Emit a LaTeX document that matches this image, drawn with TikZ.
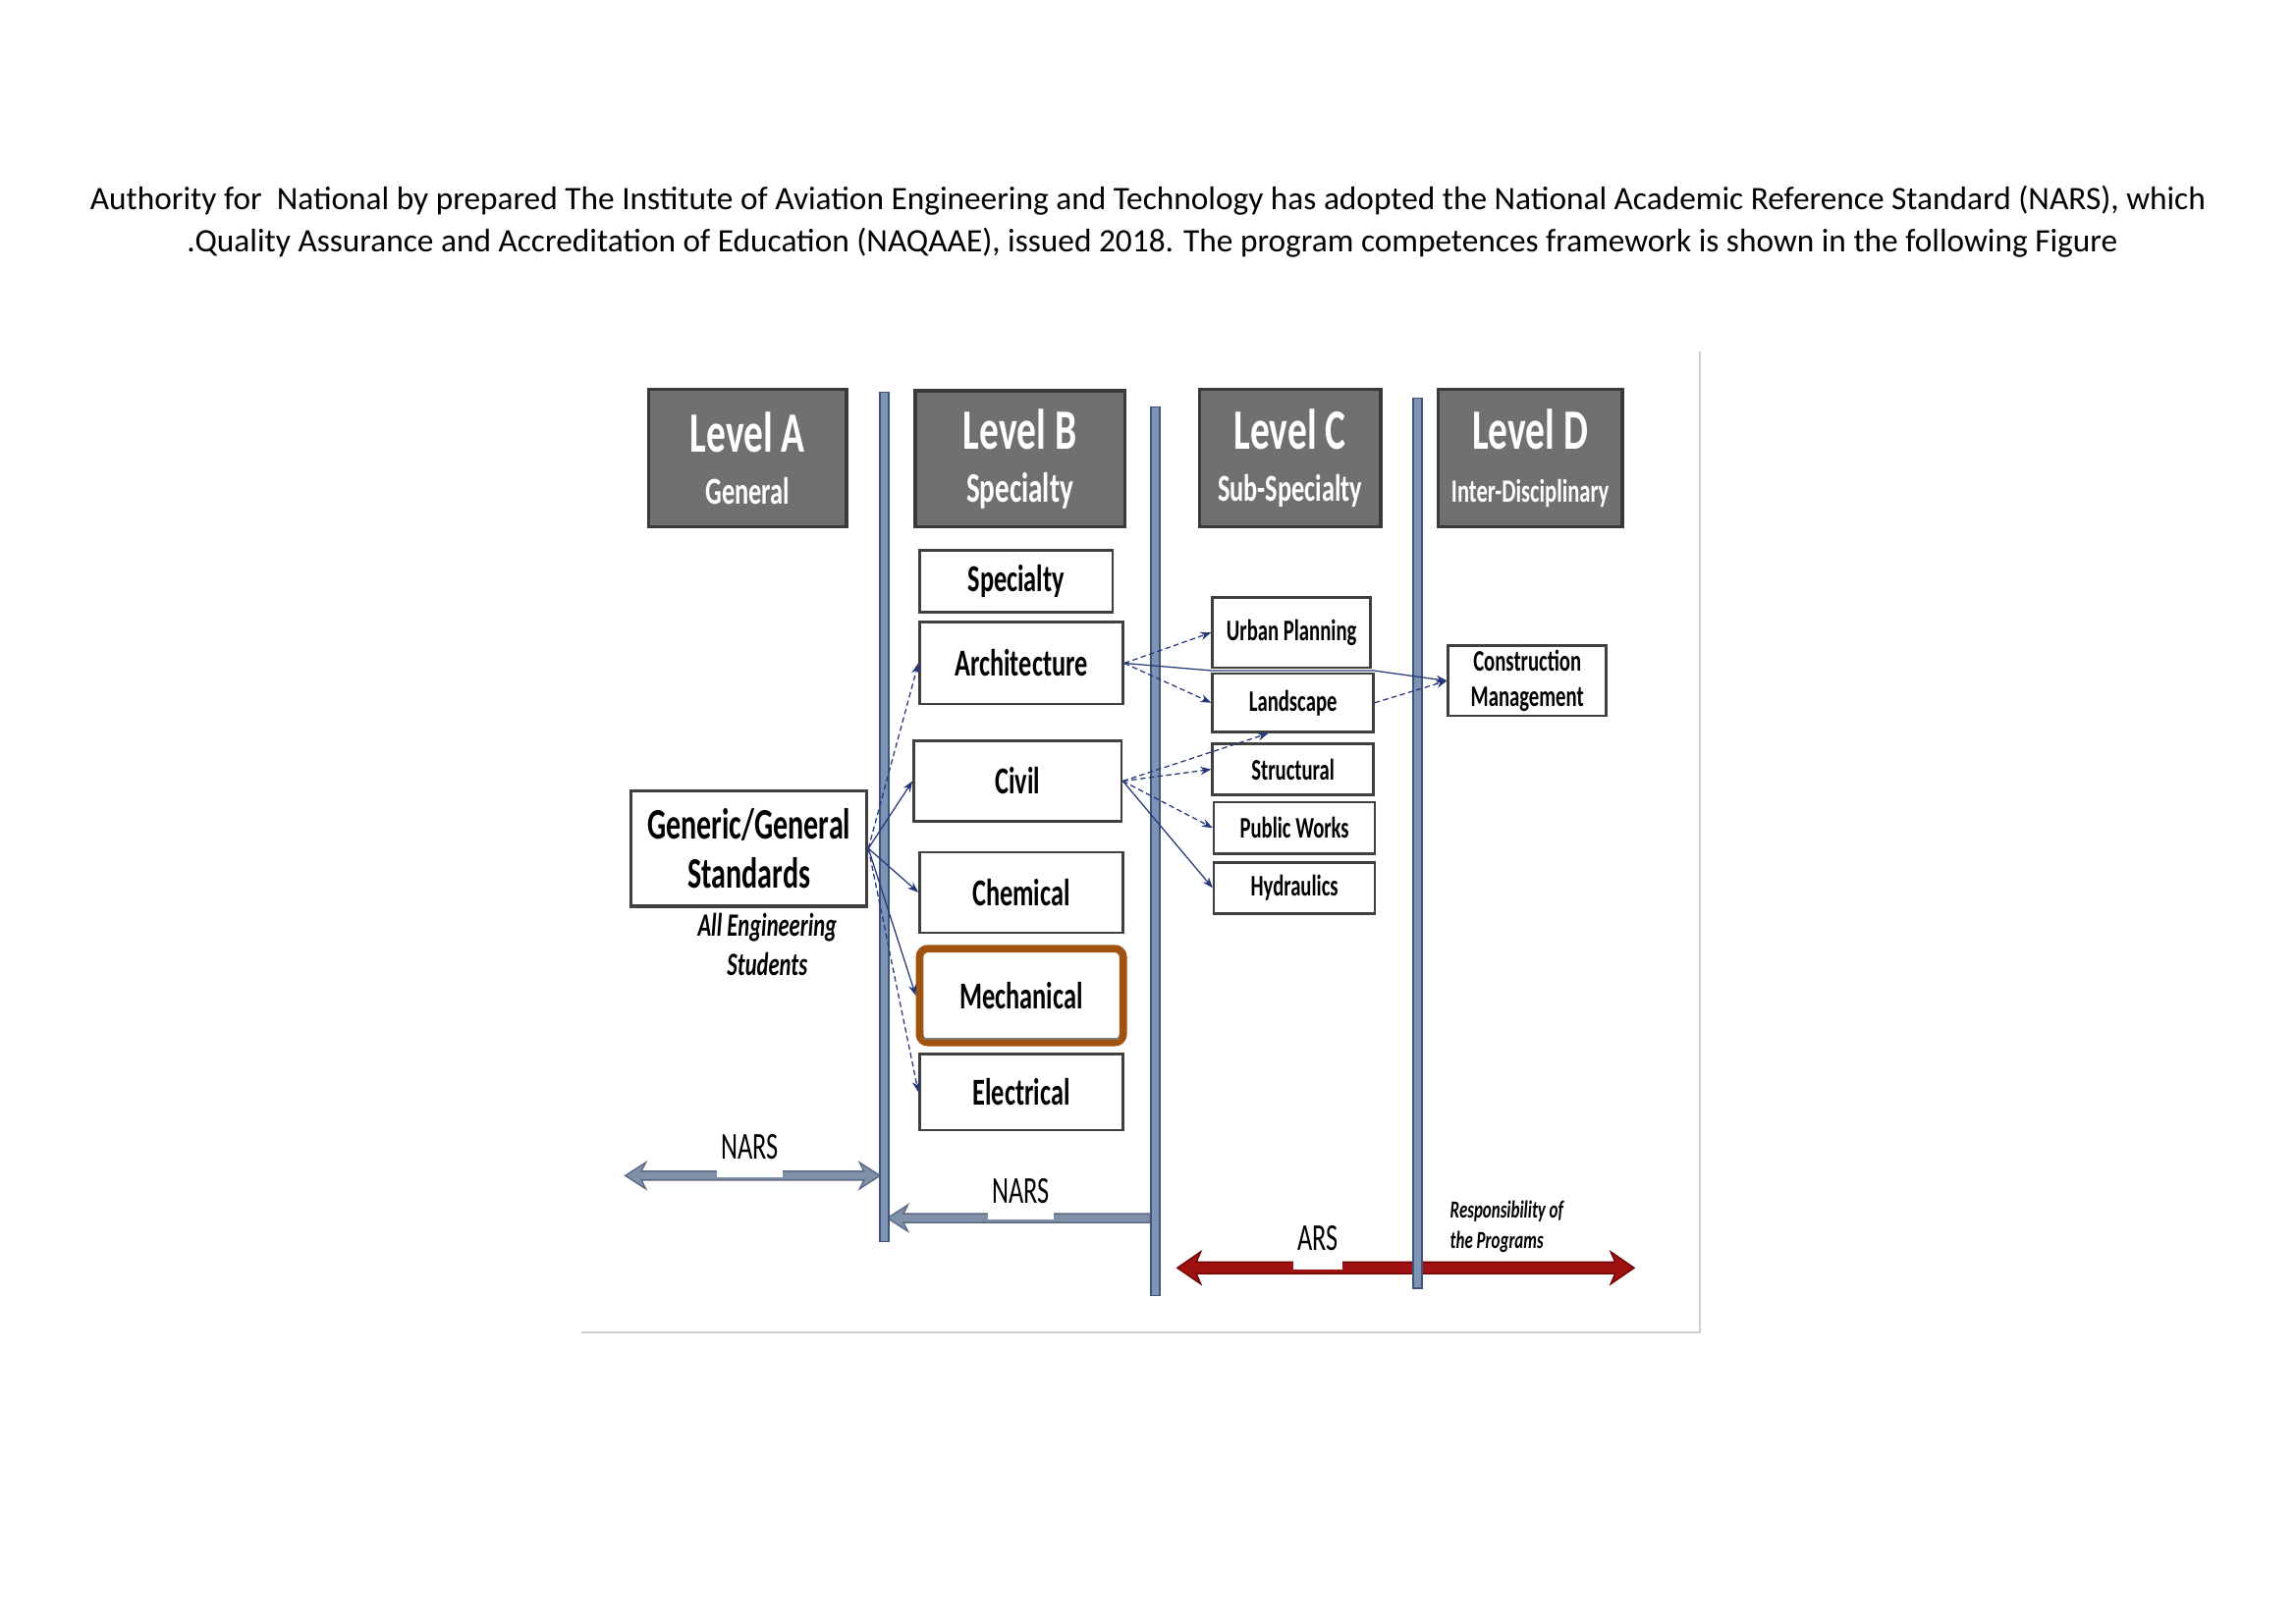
\documentclass[tikz,border=0pt]{standalone}
\usepackage{fontspec}
\setmainfont{Carlito}
\newfontfamily\cf[FakeStretch=0.68]{Carlito}
\usetikzlibrary{arrows.meta,calc}
\definecolor{headfill}{HTML}{707070}
\definecolor{headdraw}{HTML}{3A3A3A}
\definecolor{boxdraw}{HTML}{404040}
\definecolor{barfill}{HTML}{7D94B5}
\definecolor{bardraw}{HTML}{3F557D}
\definecolor{narsfill}{HTML}{7F90A8}
\definecolor{narsdraw}{HTML}{5A6A84}
\definecolor{arsfill}{HTML}{A01212}
\definecolor{arsdraw}{HTML}{6E0000}
\definecolor{conncol}{HTML}{26387A}
\definecolor{mechcol}{HTML}{A0520F}
\definecolor{framecol}{HTML}{CFCFCF}
\begin{document}
\begin{tikzpicture}[x=0.18941mm, y=-0.18941mm,
  rect/.style n args={4}{at={({(#1+#3)/2},{(#2+#4)/2})},
    minimum width={(#3-#1)*0.18941mm}, minimum height={(#4-#2)*0.18941mm}},
  titletext/.style={font=\fontsize{12.05}{14.6}\selectfont, inner sep=0pt},
  headbox/.style={draw=headdraw, fill=headfill, line width=1.2pt, inner sep=0pt,
    text=white, align=center, font=\cf\bfseries\fontsize{21}{26}\selectfont},
  wbox/.style={draw=boxdraw, fill=white, line width=0.9pt, inner sep=0pt, align=center,
    font=\cf\bfseries\fontsize{14}{17}\selectfont},
  sbox/.style={wbox, font=\cf\bfseries\fontsize{11}{12.9}\selectfont},
  genbox/.style={wbox, line width=1.1pt, font=\cf\bfseries\fontsize{16}{18.3}\selectfont},
  mechbox/.style={draw=mechcol, fill=white, line width=2.8pt, rounded corners=3pt,
    inner sep=0pt, align=center, font=\cf\bfseries\fontsize{14}{17}\selectfont},
  bar/.style={draw=bardraw, fill=barfill, line width=0.6pt, inner sep=0pt},
  conn/.style={draw=conncol, line width=0.45pt, -{Stealth[length=4pt,width=3pt]}},
  dconn/.style={conn, dash pattern=on 2pt off 1.2pt},
  narsarrow/.style={draw=narsdraw, fill=narsfill, line width=0.5pt},
  arsarrow/.style={draw=arsdraw, fill=arsfill, line width=0.5pt},
  arrlabel/.style={fill=white, inner xsep=1.5pt, inner ysep=0.5pt, anchor=base,
    font=\cf\fontsize{14}{17}\selectfont},
  frameline/.style={draw=framecol, line width=0.6pt}
]
\useasboundingbox (0,0) rectangle (1568,1109);

% title
\node[titletext] (t1) at (784,137) {Authority for\ \ National by prepared The Institute of Aviation Engineering and Technology has adopted the National Academic Reference Standard (NARS), which};
\node[titletext] (t2) at (787,166) {.Quality Assurance and Accreditation of Education (NAQAAE), issued 2018. The program competences framework is shown in the following Figure};

% figure frame
\coordinate (fBL) at (397,910);
\coordinate (fBR) at (1161,910);
\coordinate (fTR) at (1161,240);
\draw[frameline] (fBL) -- (fBR) -- (fTR);

% block arrows
\coordinate (n1l) at (427,803);
\coordinate (n1r) at (601,803);
\draw[narsarrow] (n1l) -- ++(14,-9) -- ++(-3,6) -- ($(n1r)+(-11,-3)$) -- ++(-3,-6) -- (n1r)
  -- ++(-14,9) -- ++(3,-6) -- ($(n1l)+(11,3)$) -- ++(3,6) -- cycle;
\coordinate (n2l) at (606,832);
\coordinate (n2r) at (790,832);
\draw[narsarrow] (n2l) -- ++(14,-9) -- ++(-3,6) -- ($(n2r)+(0,-3)$) -- ++(0,6)
  -- ($(n2l)+(11,3)$) -- ++(3,6) -- cycle;
\coordinate (al) at (804,866);
\coordinate (ar) at (1116,866);
\draw[arsarrow] (al) -- ++(16,-11) -- ++(-3,7) -- ($(ar)+(-13,-4)$) -- ++(-3,-7) -- (ar)
  -- ++(-16,11) -- ++(3,-7) -- ($(al)+(13,4)$) -- ++(3,7) -- cycle;

\node[arrlabel, text depth=5.9pt] (nars1) at (512,792) {NARS};
\node[arrlabel, text depth=5.4pt] (nars2) at (697,822) {NARS};
\node[arrlabel, text depth=6.5pt] (ars) at (900,854) {ARS};
\node[anchor=west, align=left, inner sep=0pt, font=\cf\bfseries\itshape\fontsize{9}{11.3}\selectfont]
  (resp) at (990,838) {Responsibility of\\the Programs};

% vertical bars
\node[bar, rect={601}{268}{607}{848}] (bar1) {};
\node[bar, rect={786}{278}{792}{885}] (bar2) {};
\node[bar, rect={965}{272}{971}{880}] (bar3) {};

% headers
\node[headbox, rect={443}{266}{578}{360}] (hA) {Level A\\[-6.8pt]{\fontsize{14}{17}\selectfont General}};
\node[headbox, rect={625}{267}{768}{360}] (hB) {Level B\\[-6.8pt]{\fontsize{15.5}{17}\selectfont Specialty}};
\node[headbox, rect={819}{266}{943}{360}] (hC) {Level C\\[-6.8pt]{\fontsize{14}{17}\selectfont Sub-Specialty}};
\node[headbox, rect={982}{266}{1108}{360}] (hD) {Level D\\[-6.8pt]{\fontsize{12}{17}\selectfont Inter-Disciplinary}};

% level A
\node[genbox, rect={431}{540}{592}{619}] (gen) {Generic/General\\Standards};
\node[align=center, inner sep=0pt, font=\cf\bfseries\itshape\fontsize{12}{14.5}\selectfont]
  (allstud) at (524,645) {All Engineering\\Students};

% level B
\node[wbox, rect={628}{376}{760}{418}] (spec) {Specialty};
\node[wbox, rect={628}{425}{767}{481}] (arch) {Architecture};
\node[wbox, rect={624}{506}{766}{561}] (civil) {Civil};
\node[wbox, rect={628}{582}{767}{637}] (chem) {Chemical};
\node[mechbox, rect={628}{648}{767}{712}] (mech) {Mechanical};
\draw[draw=boxdraw!70, line width=0.6pt] ($(mech.south west)+(5,-5)$) -- ($(mech.south east)+(-5,-5)$);
\node[wbox, rect={628}{720}{767}{772}] (elec) {Electrical};

% level C
\node[sbox, rect={828}{408}{936}{456}] (up) {Urban Planning};
\node[sbox, rect={828}{460}{938}{500}] (ls) {Landscape};
\node[sbox, rect={828}{508}{938}{543}] (st) {Structural};
\node[sbox, rect={829}{548}{939}{583}] (pw) {Public Works};
\node[sbox, rect={829}{589}{939}{624}] (hy) {Hydraulics};

% level D
\node[sbox, rect={989}{441}{1097}{489}] (cm) {Construction\\Management};

% connectors
\draw[dconn] (gen.east) -- (arch.west);
\draw[conn] (gen.east) -- (civil.west);
\draw[conn] (gen.east) -- (chem.west);
\draw[conn] (gen.east) -- (mech.west);
\draw[dconn] (gen.east) -- (elec.west);

\coordinate (gapL) at ($(up.south west)!.5!(ls.north west)$);
\coordinate (gapR) at ($(up.south east)!.5!(ls.north east)$);
\draw[dconn] (arch.east) -- (up.west);
\draw[dconn] (arch.east) -- (ls.west);
\draw[conn] (arch.east) -- (gapL) -- (gapR) -- (cm.west);
\draw[dconn] (ls.east) -- (cm.west);

\draw[dconn] (civil.east) -- (st.west);
\draw[dconn] (civil.east) -- ($(ls.south west)!.35!(ls.south east)$);
\draw[dconn] (civil.east) -- (pw.west);
\draw[conn] (civil.east) -- (hy.west);
\end{tikzpicture}
\end{document}
